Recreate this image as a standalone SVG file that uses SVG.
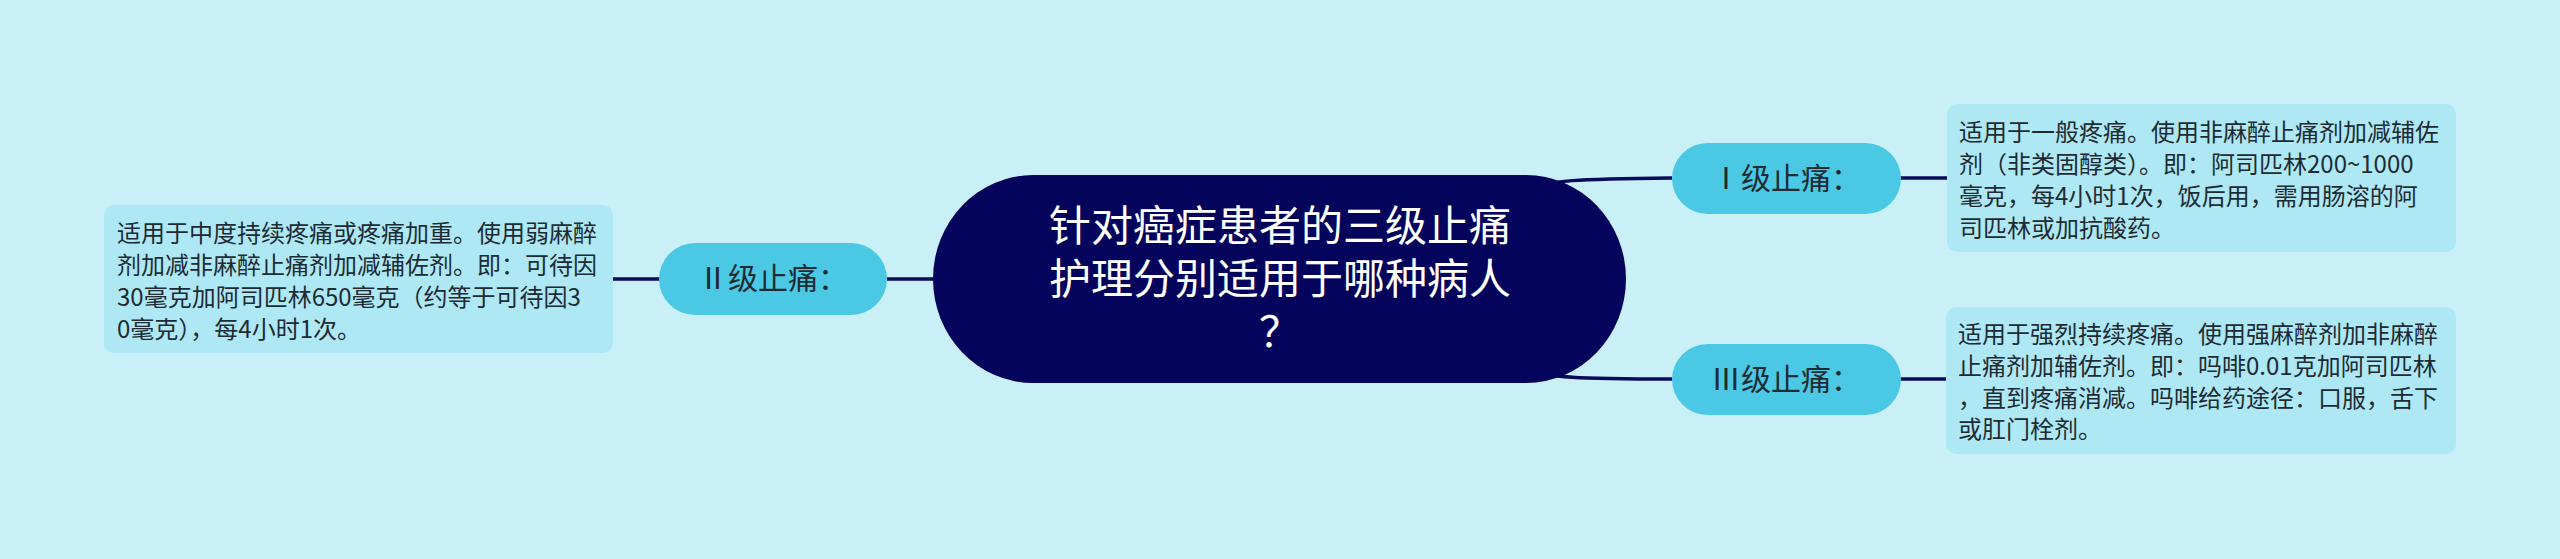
<svg xmlns="http://www.w3.org/2000/svg" width="2560" height="559" viewBox="0 0 2560 559">
<style>
.bg{fill:#c9f0f7}
.conn{fill:none;stroke:#0a0a5a;stroke-width:3.5}
.center{fill:#04045c}
.ctext{font-family:"Noto Sans CJK SC","Noto Sans",sans-serif;font-size:42px;fill:#ffffff;text-anchor:middle}
.sub{fill:#4bc8e4}
.stext{font-family:"Noto Sans CJK SC","Noto Sans",sans-serif;font-size:30px;fill:#1f2b33;text-anchor:middle}
.box{fill:#ade8f4}
.btext{font-family:"Noto Sans CJK SC","Noto Sans",sans-serif;font-size:24px;fill:#1f2b33}
</style>
<rect class="bg" x="0" y="0" width="2560" height="559"/>
<g id="connectors">
<path class="conn" d="M1530,190 C1545,180 1580,179 1672,178"/>
<path class="conn" d="M1530,368 C1545,378 1580,379 1672,379"/>
<path class="conn" d="M887,279 L935,279"/>
<path class="conn" d="M1900,178 L1948,178"/>
<path class="conn" d="M1900,379 L1948,379"/>
<path class="conn" d="M612,279 L660,279"/>
</g>
<g id="root">
<rect class="center" x="933" y="175" width="693" height="208" rx="100" ry="104"/>
<text class="ctext" x="1280" y="241">针对癌症患者的三级止痛</text>
<text class="ctext" x="1280" y="294">护理分别适用于哪种病人</text>
<text class="ctext" x="1280" y="347">？</text>
</g>
<g id="level1">
<rect class="sub" x="1672" y="143" width="229" height="71" rx="35.5"/>
<text class="stext" x="1786" y="189">Ⅰ级止痛：</text>
</g>
<g id="level1-detail">
<rect class="box" x="1947" y="104" width="509" height="148" rx="10"/>
<text class="btext" x="1959" y="141">适用于一般疼痛。使用非麻醉止痛剂加减辅佐</text>
<text class="btext" x="1959" y="173">剂（非类固醇类）。即：阿司匹林200~1000</text>
<text class="btext" x="1959" y="205">毫克，每4小时1次，饭后用，需用肠溶的阿</text>
<text class="btext" x="1959" y="237">司匹林或加抗酸药。</text>
</g>
<g id="level2">
<rect class="sub" x="659" y="243" width="228" height="72" rx="36"/>
<text class="stext" x="773" y="289">Ⅱ级止痛：</text>
</g>
<g id="level2-detail">
<rect class="box" x="104" y="205" width="509" height="148" rx="10"/>
<text class="btext" x="117" y="242">适用于中度持续疼痛或疼痛加重。使用弱麻醉</text>
<text class="btext" x="117" y="274">剂加减非麻醉止痛剂加减辅佐剂。即：可待因</text>
<text class="btext" x="117" y="306">30毫克加阿司匹林650毫克（约等于可待因3</text>
<text class="btext" x="117" y="338">0毫克），每4小时1次。</text>
</g>
<g id="level3">
<rect class="sub" x="1672" y="344" width="229" height="71" rx="35.5"/>
<text class="stext" x="1786" y="390">Ⅲ级止痛：</text>
</g>
<g id="level3-detail">
<rect class="box" x="1946" y="307" width="510" height="147" rx="10"/>
<text class="btext" x="1958" y="343">适用于强烈持续疼痛。使用强麻醉剂加非麻醉</text>
<text class="btext" x="1958" y="375">止痛剂加辅佐剂。即：吗啡0.01克加阿司匹林</text>
<text class="btext" x="1958" y="407">，直到疼痛消减。吗啡给药途径：口服，舌下</text>
<text class="btext" x="1958" y="438">或肛门栓剂。</text>
</g>
</svg>
